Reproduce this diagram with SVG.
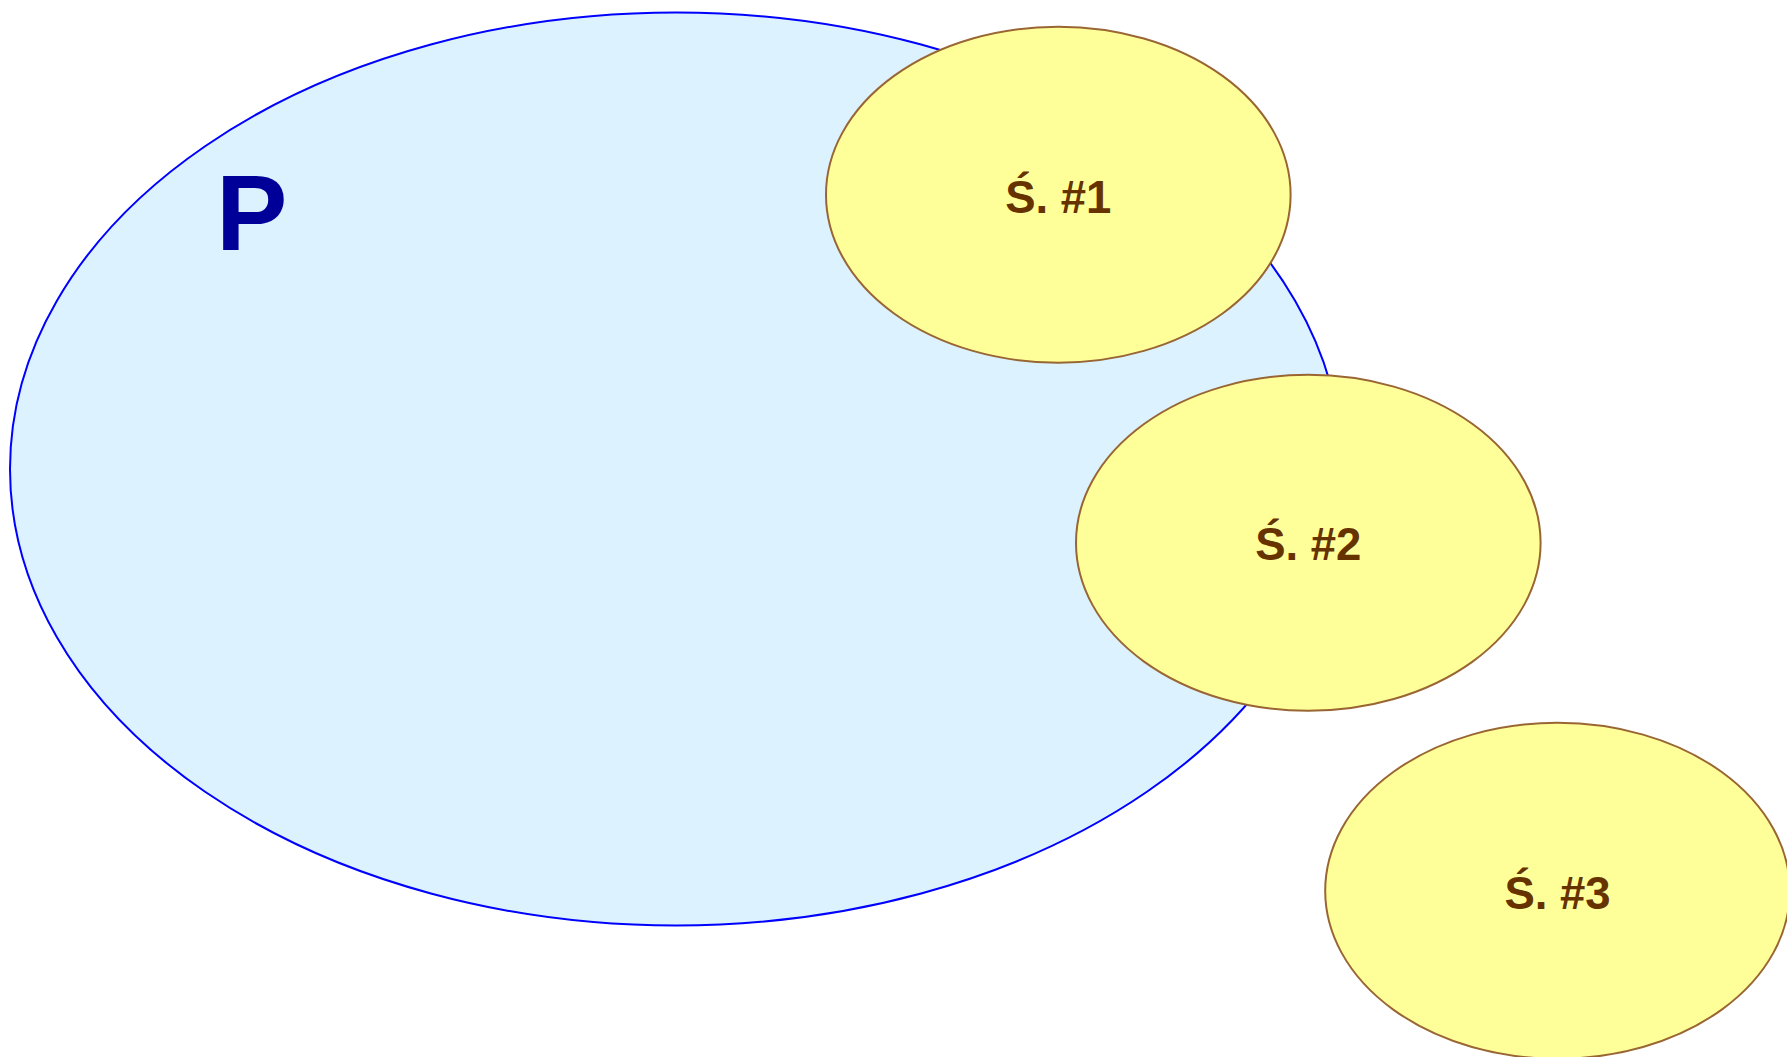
<svg xmlns="http://www.w3.org/2000/svg" width="1787" height="1057" viewBox="0 0 1787 1057">
<style>
.big{fill:#DCF2FF;stroke:#0000FF;stroke-width:2}
.sat{fill:#FFFF99;stroke:#996633;stroke-width:2}
.lbl{font-family:"Liberation Sans",Arial,sans-serif;font-weight:bold;font-size:45.5px;fill:#663300;text-anchor:middle}
.ptxt{font-family:"Liberation Sans",Arial,sans-serif;font-weight:bold;font-size:107px;fill:#000099}
</style>
<rect width="1787" height="1057" fill="#FFFFFF"/>
<g id="P">
<ellipse class="big" cx="676" cy="469" rx="666" ry="456.5"/>
<text class="ptxt" x="216" y="250">P</text>
</g>
<g id="S1">
<ellipse class="sat" cx="1058.3" cy="194.7" rx="232.3" ry="168"/>
<text class="lbl" x="1058.3" y="213">Ś. #1</text>
</g>
<g id="S2">
<ellipse class="sat" cx="1308.3" cy="542.8" rx="232.3" ry="168"/>
<text class="lbl" x="1308.3" y="560">Ś. #2</text>
</g>
<g id="S3">
<ellipse class="sat" cx="1557.5" cy="890.8" rx="232.3" ry="168"/>
<text class="lbl" x="1557.5" y="908.5">Ś. #3</text>
</g>
<g id="connectors"></g>
</svg>
